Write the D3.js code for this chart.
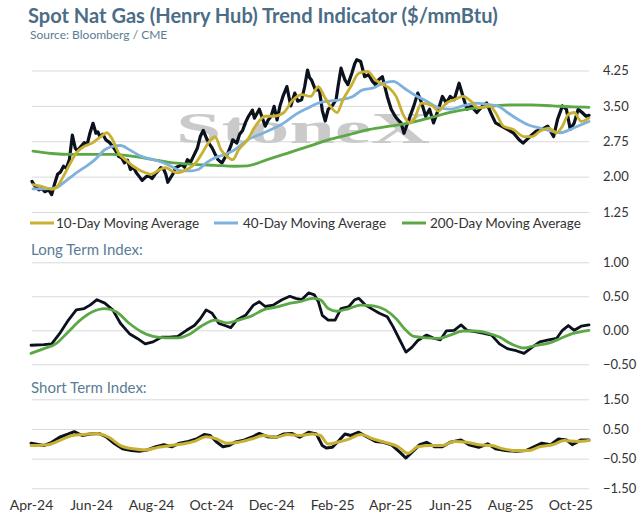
<!DOCTYPE html>
<html><head><meta charset="utf-8">
<script src="https://cdn.jsdelivr.net/npm/d3@7"></script>
<style>body{margin:0;background:#fff}svg{display:block}</style>
</head><body>
<svg id="c" width="642" height="513"></svg>
<script>
// ---------------- DATA ----------------
const priceTicks = [1.25, 2.00, 2.75, 3.50, 4.25];
const longTicks = [-0.50, 0.00, 0.50, 1.00];
const shortTicks = [-1.50, -0.50, 0.50, 1.50];
const legendLabels = ["10-Day Moving Average", "40-Day Moving Average", "200-Day Moving Average"];

const spotPrice = [
["2024-04-02",1.90],["2024-04-05",1.80],["2024-04-09",1.72],["2024-04-12",1.75],["2024-04-15",1.68],["2024-04-19",1.72],
["2024-04-22",1.62],["2024-04-25",1.85],["2024-04-28",2.05],["2024-05-01",2.10],["2024-05-04",2.22],["2024-05-07",2.18],
["2024-05-10",2.36],["2024-05-13",2.88],["2024-05-16",2.60],["2024-05-18",2.55],["2024-05-21",2.62],["2024-05-25",2.72],
["2024-05-28",2.68],["2024-05-31",2.93],["2024-06-03",3.13],["2024-06-06",2.92],["2024-06-08",2.95],["2024-06-10",2.85],
["2024-06-13",2.90],["2024-06-16",2.78],["2024-06-20",2.72],["2024-06-23",2.64],["2024-06-26",2.55],["2024-06-29",2.43],
["2024-07-02",2.40],["2024-07-05",2.29],["2024-07-08",2.35],["2024-07-11",2.15],["2024-07-14",2.20],["2024-07-17",2.08],
["2024-07-20",2.00],["2024-07-23",1.92],["2024-07-27",2.00],["2024-07-30",2.01],["2024-08-02",1.96],["2024-08-05",2.05],
["2024-08-08",2.12],["2024-08-11",2.19],["2024-08-14",2.15],["2024-08-16",2.05],["2024-08-18",1.88],["2024-08-23",2.05],
["2024-08-26",2.19],["2024-08-29",2.22],["2024-09-01",2.26],["2024-09-04",2.20],["2024-09-07",2.36],["2024-09-10",2.30],
["2024-09-13",2.43],["2024-09-17",2.60],["2024-09-20",2.85],["2024-09-23",2.98],["2024-09-25",2.88],["2024-09-27",2.78],
["2024-09-29",2.70],["2024-10-02",2.61],["2024-10-05",2.48],["2024-10-08",2.36],["2024-10-12",2.29],["2024-10-15",2.40],
["2024-10-18",2.50],["2024-10-21",2.65],["2024-10-23",2.78],["2024-10-27",2.71],["2024-10-30",2.90],["2024-11-02",2.98],
["2024-11-05",3.15],["2024-11-08",3.28],["2024-11-12",3.41],["2024-11-14",3.24],["2024-11-19",3.43],["2024-11-22",3.25],
["2024-11-25",3.07],["2024-11-28",3.20],["2024-12-01",3.28],["2024-12-04",3.49],["2024-12-07",3.20],["2024-12-10",3.50],
["2024-12-13",3.70],["2024-12-17",3.91],["2024-12-19",3.70],["2024-12-21",3.50],["2024-12-25",3.77],["2024-12-28",3.60],
["2025-01-01",3.63],["2025-01-04",3.90],["2025-01-07",4.26],["2025-01-09",4.10],["2025-01-11",4.05],["2025-01-15",3.84],
["2025-01-19",3.84],["2025-01-22",3.40],["2025-01-25",3.18],["2025-01-28",3.43],["2025-02-01",3.50],["2025-02-05",3.63],
["2025-02-07",3.91],["2025-02-10",4.30],["2025-02-14",4.05],["2025-02-17",3.95],["2025-02-21",4.19],["2025-02-24",4.40],
["2025-02-26",4.48],["2025-03-02",4.44],["2025-03-06",4.12],["2025-03-10",4.16],["2025-03-14",4.02],["2025-03-17",3.95],
["2025-03-20",4.05],["2025-03-24",4.12],["2025-03-29",3.70],["2025-04-02",3.43],["2025-04-06",3.28],["2025-04-09",3.20],
["2025-04-12",3.14],["2025-04-15",2.92],["2025-04-20",3.21],["2025-04-25",3.50],["2025-04-29",3.77],["2025-05-03",3.56],
["2025-05-07",3.28],["2025-05-11",3.43],["2025-05-15",3.14],["2025-05-20",3.43],["2025-05-24",3.70],["2025-05-28",3.56],
["2025-06-01",3.70],["2025-06-05",3.63],["2025-06-10",3.98],["2025-06-14",3.70],["2025-06-18",3.43],["2025-06-22",3.50],
["2025-06-28",3.36],["2025-07-04",3.50],["2025-07-08",3.56],["2025-07-12",3.36],["2025-07-17",3.14],["2025-07-23",3.07],
["2025-07-29",3.00],["2025-08-04",2.93],["2025-08-10",2.78],["2025-08-14",2.71],["2025-08-21",2.85],["2025-08-27",2.96],
["2025-09-02",3.00],["2025-09-08",3.07],["2025-09-14",2.85],["2025-09-18",3.21],["2025-09-23",3.50],["2025-09-27",3.43],
["2025-10-01",3.00],["2025-10-05",3.14],["2025-10-09",3.43],["2025-10-13",3.36],["2025-10-17",3.28],["2025-10-20",3.30]];

const ma10 = [
["2024-04-03",1.83],["2024-04-14",1.78],["2024-04-22",1.73],["2024-04-28",1.80],["2024-05-04",2.01],["2024-05-11",2.29],
["2024-05-17",2.50],["2024-05-25",2.64],["2024-06-02",2.71],["2024-06-11",2.85],["2024-06-17",2.93],["2024-06-23",2.78],
["2024-06-29",2.50],["2024-07-06",2.36],["2024-07-14",2.22],["2024-07-22",2.12],["2024-08-01",2.05],["2024-08-10",2.15],
["2024-08-16",2.19],["2024-08-22",2.12],["2024-08-28",2.08],["2024-09-06",2.15],["2024-09-14",2.26],["2024-09-22",2.50],
["2024-09-28",2.71],["2024-10-05",2.85],["2024-10-11",2.57],["2024-10-17",2.43],["2024-10-23",2.36],["2024-10-29",2.57],
["2024-11-07",2.78],["2024-11-15",3.07],["2024-11-25",3.28],["2024-12-03",3.28],["2024-12-14",3.36],["2024-12-22",3.60],
["2025-01-01",3.74],["2025-01-10",3.70],["2025-01-18",3.91],["2025-01-24",3.70],["2025-01-30",3.50],["2025-02-06",3.36],
["2025-02-12",3.63],["2025-02-20",3.91],["2025-02-28",4.19],["2025-03-09",4.23],["2025-03-17",4.05],["2025-03-25",3.95],
["2025-03-31",3.88],["2025-04-07",3.70],["2025-04-15",3.28],["2025-04-21",3.14],["2025-04-25",3.21],["2025-05-03",3.56],
["2025-05-14",3.50],["2025-05-20",3.39],["2025-05-28",3.56],["2025-06-05",3.63],["2025-06-14",3.70],["2025-06-22",3.60],
["2025-06-30",3.46],["2025-07-11",3.50],["2025-07-17",3.36],["2025-07-25",3.07],["2025-08-04",3.00],["2025-08-15",2.85],
["2025-08-23",2.85],["2025-08-31",2.96],["2025-09-09",3.03],["2025-09-17",2.93],["2025-09-23",3.07],["2025-09-29",3.32],
["2025-10-05",3.36],["2025-10-12",3.17],["2025-10-20",3.24]];

const ma40 = [
["2024-04-03",1.74],["2024-04-14",1.74],["2024-04-26",1.76],["2024-05-04",1.87],["2024-05-15",2.05],["2024-05-25",2.19],
["2024-06-05",2.36],["2024-06-15",2.57],["2024-06-23",2.64],["2024-07-01",2.66],["2024-07-10",2.57],["2024-07-22",2.43],
["2024-08-03",2.36],["2024-08-14",2.29],["2024-08-24",2.19],["2024-09-01",2.12],["2024-09-10",2.12],["2024-09-18",2.15],
["2024-09-26",2.29],["2024-10-05",2.40],["2024-10-15",2.47],["2024-10-25",2.57],["2024-11-07",2.78],["2024-11-19",2.89],
["2024-12-01",3.00],["2024-12-14",3.14],["2024-12-26",3.32],["2025-01-08",3.46],["2025-01-18",3.56],["2025-01-28",3.60],
["2025-02-10",3.63],["2025-02-22",3.70],["2025-03-04",3.84],["2025-03-15",3.88],["2025-03-25",3.98],["2025-04-04",4.02],
["2025-04-15",3.88],["2025-04-25",3.74],["2025-05-08",3.60],["2025-05-20",3.46],["2025-06-01",3.43],["2025-06-14",3.50],
["2025-06-26",3.56],["2025-07-09",3.53],["2025-07-19",3.50],["2025-07-29",3.36],["2025-08-09",3.21],["2025-08-19",3.10],
["2025-08-31",3.03],["2025-09-13",2.96],["2025-09-21",2.93],["2025-10-01",3.00],["2025-10-12",3.10],["2025-10-20",3.17]];

const ma200 = [
["2024-04-03",2.54],["2024-04-22",2.49],["2024-05-13",2.47],["2024-06-02",2.47],["2024-06-23",2.47],["2024-07-14",2.43],
["2024-08-03",2.36],["2024-08-24",2.29],["2024-09-14",2.26],["2024-10-05",2.24],["2024-10-25",2.22],["2024-11-07",2.23],
["2024-11-27",2.36],["2024-12-18",2.50],["2025-01-08",2.64],["2025-01-28",2.78],["2025-02-18",2.89],["2025-03-11",3.00],
["2025-03-31",3.07],["2025-04-21",3.14],["2025-05-12",3.25],["2025-06-01",3.36],["2025-06-22",3.44],["2025-07-13",3.49],
["2025-08-02",3.52],["2025-08-23",3.52],["2025-09-13",3.50],["2025-10-03",3.48],["2025-10-20",3.47]];

const longIndex = [
["2024-04-01",-0.22],["2024-04-14",-0.21],["2024-04-22",-0.20],["2024-04-30",-0.05],["2024-05-09",0.15],["2024-05-17",0.30],
["2024-05-25",0.32],["2024-05-31",0.37],["2024-06-07",0.45],["2024-06-15",0.40],["2024-06-23",0.30],["2024-07-01",0.10],
["2024-07-10",-0.05],["2024-07-18",-0.12],["2024-07-26",-0.20],["2024-08-03",-0.17],["2024-08-12",-0.10],["2024-08-20",-0.10],
["2024-08-28",-0.09],["2024-09-06",0.00],["2024-09-14",0.07],["2024-09-20",0.17],["2024-09-26",0.30],["2024-10-02",0.25],
["2024-10-09",0.10],["2024-10-15",0.07],["2024-10-21",0.04],["2024-10-27",0.15],["2024-11-05",0.22],["2024-11-13",0.37],
["2024-11-19",0.42],["2024-11-25",0.35],["2024-12-03",0.37],["2024-12-12",0.45],["2024-12-20",0.50],["2024-12-26",0.47],
["2025-01-01",0.45],["2025-01-08",0.55],["2025-01-14",0.52],["2025-01-18",0.42],["2025-01-22",0.22],["2025-01-28",0.15],
["2025-02-04",0.15],["2025-02-10",0.32],["2025-02-18",0.35],["2025-02-24",0.45],["2025-02-28",0.47],["2025-03-07",0.37],
["2025-03-15",0.30],["2025-03-21",0.25],["2025-03-29",0.20],["2025-04-04",0.05],["2025-04-11",-0.15],["2025-04-17",-0.32],
["2025-04-23",-0.25],["2025-04-29",-0.15],["2025-05-08",-0.07],["2025-05-16",-0.12],["2025-05-22",-0.14],["2025-05-28",-0.01],
["2025-06-05",0.00],["2025-06-12",0.08],["2025-06-18",0.00],["2025-06-26",-0.02],["2025-07-04",-0.04],["2025-07-13",-0.07],
["2025-07-21",-0.20],["2025-07-29",-0.27],["2025-08-07",-0.30],["2025-08-15",-0.34],["2025-08-23",-0.25],["2025-08-31",-0.17],
["2025-09-09",-0.14],["2025-09-17",-0.12],["2025-09-23",0.00],["2025-09-29",0.07],["2025-10-05",0.00],["2025-10-12",0.06],
["2025-10-20",0.08]];

const longSignal = [
["2024-04-01",-0.34],["2024-04-14",-0.27],["2024-04-26",-0.20],["2024-05-09",-0.02],["2024-05-21",0.15],["2024-06-02",0.27],
["2024-06-15",0.32],["2024-06-27",0.27],["2024-07-10",0.10],["2024-07-22",-0.02],["2024-08-03",-0.09],["2024-08-16",-0.11],
["2024-08-28",-0.11],["2024-09-10",-0.05],["2024-09-22",0.07],["2024-10-05",0.15],["2024-10-17",0.11],["2024-10-29",0.15],
["2024-11-11",0.21],["2024-11-23",0.30],["2024-12-06",0.34],["2024-12-18",0.39],["2024-12-30",0.42],["2025-01-12",0.47],
["2025-01-20",0.45],["2025-01-28",0.32],["2025-02-06",0.28],["2025-02-18",0.32],["2025-03-02",0.37],["2025-03-15",0.36],
["2025-03-27",0.30],["2025-04-07",0.17],["2025-04-17",0.00],["2025-04-25",-0.09],["2025-05-08",-0.11],["2025-05-20",-0.12],
["2025-06-01",-0.07],["2025-06-14",-0.01],["2025-06-26",-0.01],["2025-07-09",-0.04],["2025-07-21",-0.10],["2025-08-02",-0.20],
["2025-08-15",-0.26],["2025-08-27",-0.22],["2025-09-09",-0.19],["2025-09-21",-0.12],["2025-10-03",-0.05],["2025-10-20",0.00]];

const shortIndex = [
["2024-04-01",0.02],["2024-04-14",-0.06],["2024-04-22",0.05],["2024-04-30",0.22],["2024-05-09",0.33],["2024-05-15",0.41],
["2024-05-23",0.28],["2024-05-31",0.33],["2024-06-09",0.35],["2024-06-17",0.22],["2024-06-25",0.00],["2024-07-03",-0.17],
["2024-07-12",-0.23],["2024-07-20",-0.25],["2024-07-28",-0.21],["2024-08-06",-0.10],["2024-08-14",-0.03],["2024-08-22",-0.10],
["2024-08-30",0.02],["2024-09-08",0.08],["2024-09-16",0.16],["2024-09-24",0.31],["2024-09-30",0.28],["2024-10-07",0.05],
["2024-10-13",-0.10],["2024-10-19",-0.06],["2024-10-25",0.05],["2024-11-02",0.11],["2024-11-11",0.22],["2024-11-19",0.35],
["2024-11-27",0.24],["2024-12-06",0.22],["2024-12-14",0.33],["2024-12-22",0.35],["2024-12-30",0.22],["2025-01-08",0.39],
["2025-01-16",0.33],["2025-01-22",-0.06],["2025-01-26",-0.14],["2025-02-01",-0.12],["2025-02-08",0.11],["2025-02-14",0.33],
["2025-02-20",0.28],["2025-02-28",0.39],["2025-03-09",0.22],["2025-03-17",0.08],["2025-03-25",0.05],["2025-04-02",-0.03],
["2025-04-11",-0.29],["2025-04-17",-0.48],["2025-04-23",-0.29],["2025-05-01",-0.03],["2025-05-08",0.05],["2025-05-16",-0.10],
["2025-05-24",-0.10],["2025-06-01",0.05],["2025-06-12",0.13],["2025-06-20",-0.03],["2025-06-30",-0.12],["2025-07-09",0.00],
["2025-07-17",-0.17],["2025-07-27",-0.23],["2025-08-07",-0.25],["2025-08-17",-0.23],["2025-08-25",-0.10],["2025-09-02",0.02],
["2025-09-11",-0.03],["2025-09-19",0.16],["2025-09-27",0.13],["2025-10-03",-0.03],["2025-10-12",0.13],["2025-10-20",0.13]];

const shortSignal = [
["2024-04-01",-0.06],["2024-04-18",-0.03],["2024-04-30",0.11],["2024-05-13",0.28],["2024-05-25",0.31],["2024-06-07",0.35],
["2024-06-19",0.22],["2024-07-01",-0.06],["2024-07-14",-0.17],["2024-07-26",-0.21],["2024-08-08",-0.12],["2024-08-20",-0.06],
["2024-09-01",-0.01],["2024-09-14",0.08],["2024-09-26",0.24],["2024-10-07",0.16],["2024-10-17",0.02],["2024-10-29",0.05],
["2024-11-11",0.16],["2024-11-23",0.28],["2024-12-06",0.22],["2024-12-18",0.31],["2024-12-30",0.28],["2025-01-12",0.33],
["2025-01-20",0.28],["2025-01-28",-0.01],["2025-02-06",0.05],["2025-02-18",0.16],["2025-03-02",0.31],["2025-03-15",0.16],
["2025-03-27",0.05],["2025-04-09",-0.10],["2025-04-19",-0.32],["2025-04-29",-0.10],["2025-05-12",-0.06],["2025-05-24",-0.06],
["2025-06-05",0.08],["2025-06-18",0.05],["2025-06-30",-0.03],["2025-07-13",-0.06],["2025-07-25",-0.17],["2025-08-07",-0.23],
["2025-08-19",-0.23],["2025-08-31",-0.10],["2025-09-13",-0.03],["2025-09-25",0.11],["2025-10-08",0.08],["2025-10-20",0.11]];

// ---------------- CHART ----------------
const FONT = "Lato, 'Open Sans', sans-serif";
const C = {black:"#0b111d", gold:"#c8b031", blue:"#7eb2dc", green:"#5ba845", grid:"#d9d9d9",
           title:"#4b6d87", sub:"#5a7c95", label:"#333"};
const parse = d3.timeParse("%Y-%m-%d");
const svg = d3.select("#c");

const x = d3.scaleTime().domain([parse("2024-04-02"), parse("2025-10-20")]).range([32, 589]);
const yTop = d3.scaleLinear().domain([1.25, 4.25]).range([212, 70.5]);
const yMid = d3.scaleLinear().domain([-0.5, 1.0]).range([364.3, 262.3]);
const yBot = d3.scaleLinear().domain([-1.5, 1.5]).range([488.3, 399.3]);

// title
const title = svg.append("text").attr("x", 28).attr("y", 22.5)
  .attr("font-family", FONT).attr("font-weight", 700).attr("font-size", 19).attr("fill", C.title)
  .text("Spot Nat Gas (Henry Hub) Trend Indicator ($/mmBtu)");
{ const w = title.node().getComputedTextLength(); title.attr("font-size", 19 * 470 / w); }
svg.append("text").attr("x", 30).attr("y", 38.5)
  .attr("font-family", FONT).attr("font-size", 12).attr("fill", C.sub)
  .text("Source: Bloomberg / CME");

function gridAxis(y, ticks) {
  const g = svg.append("g").attr("transform", "translate(589,0)")
    .call(d3.axisRight(y).tickValues(ticks).tickSize(0).tickPadding(14).tickFormat(d3.format(".2f")));
  g.select(".domain").remove();
  g.selectAll("text").attr("font-family", FONT).attr("font-size", 13).attr("fill", C.label);
  const gl = svg.append("g").attr("transform", "translate(32,0)")
    .call(d3.axisLeft(y).tickValues(ticks).tickSize(-557).tickFormat(""));
  gl.select(".domain").remove();
  gl.selectAll("line").attr("stroke", C.grid).attr("stroke-width", 1);
}
gridAxis(yTop, priceTicks);
gridAxis(yMid, longTicks);
gridAxis(yBot, shortTicks);

// watermark
const wm = svg.append("text").attr("font-family", "'Liberation Serif', serif").attr("font-weight", 700)
  .attr("font-size", 45).attr("fill", "#cacaca").text("StoneX");
{ const w = wm.node().getComputedTextLength(); wm.attr("transform", `translate(176,143) scale(${254 / w},1)`); }

function draw(data, y, color, width, curve) {
  const pts = data.map(d => [parse(d[0]), d[1]]);
  svg.append("path").datum(pts)
    .attr("fill", "none").attr("stroke", color).attr("stroke-width", width)
    .attr("stroke-linejoin", "round").attr("stroke-linecap", "round")
    .attr("d", d3.line().x(d => x(d[0])).y(d => y(d[1])).curve(curve));
}
// top panel
draw(spotPrice, yTop, C.black, 3.2, d3.curveLinear);
draw(ma200, yTop, C.green, 2.8, d3.curveMonotoneX);
draw(ma40, yTop, C.blue, 2.8, d3.curveMonotoneX);
draw(ma10, yTop, C.gold, 2.8, d3.curveMonotoneX);
// middle
draw(longIndex, yMid, C.black, 2.8, d3.curveLinear);
draw(longSignal, yMid, C.green, 2.8, d3.curveMonotoneX);
// bottom
draw(shortIndex, yBot, C.black, 3.0, d3.curveLinear);
draw(shortSignal, yBot, C.gold, 3.0, d3.curveMonotoneX);

// legend
const legItems = [
  {label: legendLabels[0], color: C.gold, x0: 30, tx: 56},
  {label: legendLabels[1], color: C.blue, x0: 214, tx: 243},
  {label: legendLabels[2], color: C.green, x0: 402, tx: 430}];
legItems.forEach(it => {
  svg.append("line").attr("x1", it.x0).attr("x2", it.x0 + 24).attr("y1", 223).attr("y2", 223)
    .attr("stroke", it.color).attr("stroke-width", 3);
  svg.append("text").attr("x", it.tx).attr("y", 223).attr("dy", "0.35em")
    .attr("font-family", FONT).attr("font-size", 13.5).attr("fill", C.label).text(it.label);
});

// section labels
svg.append("text").attr("x", 31).attr("y", 250).attr("dy", "0.35em")
  .attr("font-family", FONT).attr("font-size", 15).attr("fill", C.sub).text("Long Term Index:");
svg.append("text").attr("x", 31).attr("y", 388).attr("dy", "0.35em")
  .attr("font-family", FONT).attr("font-size", 15).attr("fill", C.sub).text("Short Term Index:");

// x axis
const xTicks = d3.timeMonth.range(parse("2024-04-01"), parse("2025-10-21"), 2);
const xa = svg.append("g").attr("transform", "translate(0,497)")
  .call(d3.axisBottom(x).tickValues(xTicks)
    .tickSize(0).tickPadding(3).tickFormat(d3.timeFormat("%b-%y")));
xa.select(".domain").remove();
xa.selectAll("text").attr("font-family", FONT).attr("font-size", 14).attr("fill", C.label);
</script>
</body></html>
